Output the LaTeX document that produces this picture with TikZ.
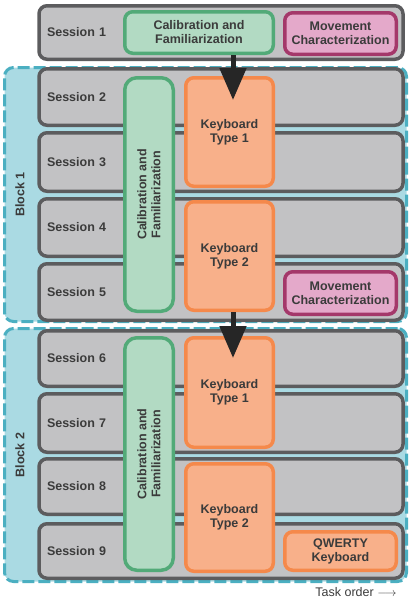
\documentclass[tikz,border=0pt]{standalone}
\usepackage{fontspec}
\setmainfont{Liberation Sans}
\usetikzlibrary{arrows.meta,positioning,calc}
\definecolor{sessfill}{HTML}{C2C2C4}
\definecolor{sessline}{HTML}{5C5C5E}
\definecolor{blkfill}{HTML}{AADAE3}
\definecolor{blkline}{HTML}{4BAFC1}
\definecolor{calfill}{HTML}{B2DAC3}
\definecolor{calline}{HTML}{52AA78}
\definecolor{kbfill}{HTML}{F8B08A}
\definecolor{kbline}{HTML}{F5894B}
\definecolor{movfill}{HTML}{E4A9CA}
\definecolor{movline}{HTML}{A4386A}
\definecolor{txt}{HTML}{3B3B3B}

\tikzset{
  lbl/.style={font=\fontsize{12.5}{14}\selectfont\bfseries, text=txt},
  blockbox/.style={draw=blkline, fill=blkfill, line width=3pt, dash pattern=on 12pt off 4pt, rounded corners=9pt},
  session/.style={lbl, draw=sessline, fill=sessfill, line width=3.5pt, rounded corners=8pt,
    minimum width=364pt, text width=348pt, inner xsep=8pt, align=left},
  task/.style={lbl, line width=3.5pt, rounded corners=8pt, align=center, inner sep=0pt},
  calbox/.style={task, draw=calline, fill=calfill},
  kbbox/.style={task, draw=kbline, fill=kbfill},
  movbox/.style={task, draw=movline, fill=movfill},
}

\begin{document}
\begin{tikzpicture}[x=1pt,y=-1pt,>={Triangle[width=26pt,length=32pt]}]
\useasboundingbox (0,0) rectangle (410,600);

% blocks
\node[blockbox,minimum width=402pt,minimum height=254pt] (blk1) at (205.5,194.5) {};
\node[blockbox,minimum width=402pt,minimum height=253pt] (blk2) at (205.5,455) {};
\node[lbl,rotate=90] (blk1t) at (20,194.5) {Block 1};
\node[lbl,rotate=90] (blk2t) at (20,455) {Block 2};

% sessions
\node[session,minimum height=53.5pt] (s1) at (221,32.5) {Session 1};
\node[session,minimum height=56.5pt] (s2) at (221,97) {Session 2};
\node[session,minimum height=58.5pt] (s3) at (221,162) {Session 3};
\node[session,minimum height=57.5pt] (s4) at (221,227.5) {Session 4};
\node[session,minimum height=56.5pt] (s5) at (221,292) {Session 5};
\node[session,minimum height=55.5pt] (s6) at (221,358.5) {Session 6};
\node[session,minimum height=58.5pt] (s7) at (221,423) {Session 7};
\node[session,minimum height=55.5pt] (s8) at (221,486.5) {Session 8};
\node[session,minimum height=54.5pt] (s9) at (221,551) {Session 9};

% tasks
\node[calbox,minimum width=148.5pt,minimum height=41.5pt] (cal0) at (199,32.5) {Calibration and\\Familiarization};
\node[movbox,minimum width=111.5pt,minimum height=41.5pt] (mov1) at (340.5,33.5) {Movement\\Characterization};

\node[calbox,rounded corners=12pt,minimum width=233.5pt,minimum height=48.5pt,rotate=90] (cal1) at (149,194.5) {Calibration and\\Familiarization};
\node[kbbox,minimum width=87.5pt,minimum height=108.5pt] (kb1a) at (229.5,132) {Keyboard\\Type 1};
\node[kbbox,minimum width=87.5pt,minimum height=108.5pt] (kb1b) at (229.5,256) {Keyboard\\Type 2};
\node[movbox,minimum width=111.5pt,minimum height=42.5pt] (mov5) at (340.5,293) {Movement\\Characterization};

\node[calbox,rounded corners=12pt,minimum width=232.5pt,minimum height=48.5pt,rotate=90] (cal2) at (149,454) {Calibration and\\Familiarization};
\node[kbbox,minimum width=87.5pt,minimum height=109.5pt] (kb2a) at (229.5,392.5) {Keyboard\\Type 1};
\node[kbbox,minimum width=87.5pt,minimum height=107.5pt] (kb2b) at (229.5,517.5) {Keyboard\\Type 2};
\node[kbbox,minimum width=111.5pt,minimum height=38.5pt] (qw) at (340.5,551) {QWERTY\\Keyboard};

% arrows
\coordinate (t1) at ([xshift=3.5pt,yshift=-24pt]kb1a.north);
\coordinate (t2) at ([xshift=3.5pt,yshift=-22pt]kb2a.north);
\draw[->,line width=5pt,draw=black!85,fill=black!85] (cal0.south -| t1) -- (t1);
\draw[->,line width=5pt,draw=black!85,fill=black!85] (kb1b.south -| t2) -- (t2);

\node[font=\fontsize{12.5}{14}\selectfont,text=txt] (order) at (356,592) {Task order $\longrightarrow$};
\end{tikzpicture}
\end{document}
